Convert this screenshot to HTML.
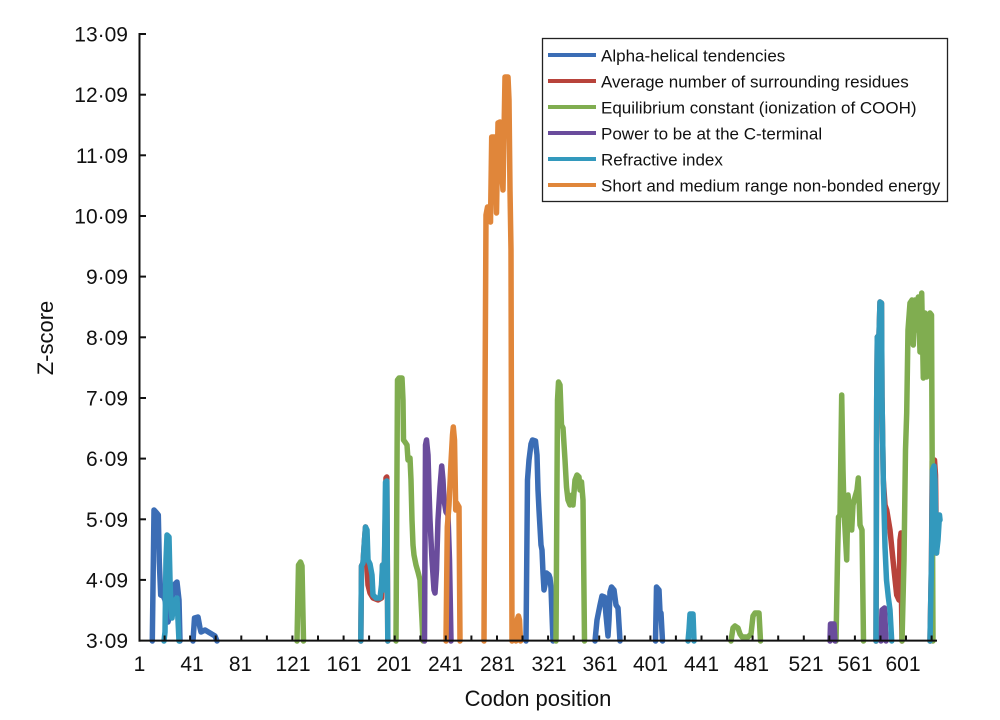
<!DOCTYPE html>
<html>
<head>
<meta charset="utf-8">
<style>
  html, body { margin: 0; padding: 0; background: #ffffff; }
  svg { display: block; }
  text { font-family: "Liberation Sans", Arial, sans-serif; fill: #111; }
</style>
</head>
<body>
<svg width="1000" height="720" viewBox="0 0 1000 720" xmlns="http://www.w3.org/2000/svg">
  <rect x="0" y="0" width="1000" height="720" fill="#ffffff"/>

  <g fill="none" stroke-width="5.5" stroke-linejoin="round" stroke-linecap="round">
    <!-- Blue: Alpha-helical tendencies -->
    <g stroke="#3b6db5">
      <polyline points="152.3,641 154,510 156.7,513 158.3,515 159.3,562 160.7,595 163.3,596 165,600 168,622 171,612 174,585 177,582 179,600 180,641"/>
      <polyline points="193,641 194.5,618 198,617 200,628 201,632 205,630 210,633 215,636 217,641"/>
      <polyline points="526,641 527.5,480 529,460 531,444 532.5,440 535.5,441 537,455 538,490 539,510 541,545 542,550 543,573 544,590 545,585 546.5,573 549,575 550,578 551,588 553,641"/>
      <polyline points="595,641 597,620 600,605 602,596 604.5,597 606,615 608,636 609,620 610,592 611.5,587 614,590 616,605 618,608 620,641"/>
      <polyline points="655.5,641 656.5,587 659,590 660,612 661,613 662.5,641"/>
    </g>
    <!-- Red: Average number of surrounding residues -->
    <g stroke="#b8433b">
      <polyline points="360.8,641 361.5,566 363,563 364.5,540 365.5,527 366.5,545 367,566 368,585 370,593 373,598 378,600 381.5,598 382.5,565 383.5,590 384.5,560 386,478 386.8,477 387.8,641"/>
      <polyline points="876,641 876.7,400 877.3,337 879,335 880,302 881.5,303 882,397 883.3,480 885,505 886.7,510 890,530 893.3,563 896.7,595 899,600 900,540 901,533 901.5,600 902,641"/>
      <polyline points="930,641 931.5,560 932.2,461 934.5,460 935.5,475 936.5,553"/>
    </g>
    <!-- Green: Equilibrium constant -->
    <g stroke="#80ad50">
      <polyline points="297,641 298.5,565 300.5,562 302,566 303.5,641"/>
      <polyline points="396,641 397.5,380 399,378 402,378 403,400 403.5,440 405,442 407,445 408,460 410,458 411,480 412,520 413,545 414,555 416,565 418,572 420,580 421,600 422,620 423,641"/>
      <polyline points="556,641 557.5,400 558.5,382 560,385 561.5,425 563,428 565,460 566.5,487 568,500 570,505 572,495 573,505 575,480 577,475 579,477 580,490 581.5,482 583,500 584.5,641"/>
      <polyline points="731,641 733,628 735,626 738,628 740,634 742,637 748,637 751,634 753,616 755,613 759,613 760.5,641"/>
      <polyline points="836,641 837.5,560 838.5,517 840,515 841.7,395 843,470 844,510 846.7,560 848,495 850,510 851.7,530 853,505 855,497 857,490 858.3,478 860,525 862,530 863.5,641"/>
      <polyline points="902,641 904,560 905.5,450 906.7,413 908,330 910,303 912,300 913.3,345 915,300 916.5,330 918.3,297 920,352 921.7,293 923.3,378 925,313 926.7,377 928,375 930,313 931.5,315 933,641"/>
    </g>
    <!-- Purple: Power to be at the C-terminal -->
    <g stroke="#6a4c9c">
      <polyline points="424.5,641 425.5,445 426.5,440 428,455 429,490 430,520 432,560 434,590 435,593 436.5,570 438,520 440,487 441.7,466 443,480 444,500 446,512 448,515 449.5,560 451,641"/>
      <polyline points="830,641 830.5,624 834,624 835,641"/>
      <polyline points="881,641 882,610 884.5,608 886,641"/>
    </g>
    <!-- Cyan: Refractive index -->
    <g stroke="#3399bd">
      <polyline points="164,641 165,632 166,560 167,535 169,537 170,580 171,610 172,618 173.5,605 175,600 177,598 178,620 179,641"/>
      <polyline points="360.8,641 361.5,566 363,563 364.5,540 365.5,527 367,530 368,560 370,564 372,575 373,595 376,598 380,598 381.5,585 382.5,565 383.5,590 384.5,560 385.5,482 386.8,481 387.8,641"/>
      <polyline points="688,641 689,630 690,614 693,614 694,641"/>
      <polyline points="876,641 876.7,400 877.3,337 879,335 880,302 881.5,303 882,397 883.3,480 885,547 886.5,580 888.3,597 890,610 891.7,641"/>
      <polyline points="930,641 931.5,560 932.5,470 934,466 935,480 936.5,553 938,540 939.5,515 940,520"/>
    </g>
    <!-- Orange: Short and medium range non-bonded energy -->
    <g stroke="#e0863a">
      <polyline points="446,641 447.3,527 449,505 451,462 452.5,435 453.3,427 454.5,440 455.7,510 456.7,503 459,507 460,641"/>
      <polyline points="484,641 485,400 486,215 487.5,207 489,218 490.5,222 491.7,137 494.5,137 496.5,213 498,123 500,122 501.5,170 503,190 505,77 508,77 509,100 510,190 511,250 512,641"/>
      <polyline points="516,641 517,620 518.5,616 519.5,620 520.5,641"/>
    </g>
  </g>

  <!-- Axes -->
  <g stroke="#111" stroke-width="2" fill="none">
    <line x1="139.5" y1="33" x2="139.5" y2="641.6"/>
    <line x1="138.5" y1="640.6" x2="937" y2="640.6"/>
    <!-- y ticks -->
    <line x1="139.5" y1="34" x2="146" y2="34"/>
    <line x1="139.5" y1="94.7" x2="146" y2="94.7"/>
    <line x1="139.5" y1="155.3" x2="146" y2="155.3"/>
    <line x1="139.5" y1="216" x2="146" y2="216"/>
    <line x1="139.5" y1="276.6" x2="146" y2="276.6"/>
    <line x1="139.5" y1="337.3" x2="146" y2="337.3"/>
    <line x1="139.5" y1="398" x2="146" y2="398"/>
    <line x1="139.5" y1="458.6" x2="146" y2="458.6"/>
    <line x1="139.5" y1="519.3" x2="146" y2="519.3"/>
    <line x1="139.5" y1="579.9" x2="146" y2="579.9"/>
    <!-- x ticks every 20 codons -->
    <path d="M164.6,640.6V635.5 M190.1,640.6V635.5 M215.7,640.6V635.5 M241.3,640.6V635.5 M266.9,640.6V635.5 M292.4,640.6V635.5 M318,640.6V635.5 M343.6,640.6V635.5 M369.1,640.6V635.5 M394.7,640.6V635.5 M420.3,640.6V635.5 M445.8,640.6V635.5 M471.4,640.6V635.5 M497,640.6V635.5 M522.5,640.6V635.5 M548.1,640.6V635.5 M573.7,640.6V635.5 M599.2,640.6V635.5 M624.8,640.6V635.5 M650.4,640.6V635.5 M675.9,640.6V635.5 M701.5,640.6V635.5 M727.1,640.6V635.5 M752.6,640.6V635.5 M778.2,640.6V635.5 M803.8,640.6V635.5 M829.3,640.6V635.5 M854.9,640.6V635.5 M880.5,640.6V635.5 M906,640.6V635.5 M931.6,640.6V635.5"/>
  </g>

  <!-- Y tick labels -->
  <g font-size="21" text-anchor="end">
    <text x="128" y="41.5">13·09</text>
    <text x="128" y="102.2">12·09</text>
    <text x="128" y="162.8">11·09</text>
    <text x="128" y="223.5">10·09</text>
    <text x="128" y="284.1">9·09</text>
    <text x="128" y="344.8">8·09</text>
    <text x="128" y="405.5">7·09</text>
    <text x="128" y="466.1">6·09</text>
    <text x="128" y="526.8">5·09</text>
    <text x="128" y="587.4">4·09</text>
    <text x="128" y="648.1">3·09</text>
  </g>

  <!-- X tick labels -->
  <g font-size="21" text-anchor="middle">
    <text x="139.5" y="671">1</text>
    <text x="192" y="671">41</text>
    <text x="240.5" y="671">81</text>
    <text x="293" y="671">121</text>
    <text x="344" y="671">161</text>
    <text x="394" y="671">201</text>
    <text x="445.5" y="671">241</text>
    <text x="497.5" y="671">281</text>
    <text x="549" y="671">321</text>
    <text x="600" y="671">361</text>
    <text x="650.5" y="671">401</text>
    <text x="701.5" y="671">441</text>
    <text x="751.5" y="671">481</text>
    <text x="806" y="671">521</text>
    <text x="855" y="671">561</text>
    <text x="903" y="671">601</text>
  </g>

  <!-- Axis titles -->
  <text x="538" y="706" font-size="22" text-anchor="middle">Codon position</text>
  <text transform="translate(53,338) rotate(-90)" font-size="22" text-anchor="middle">Z-score</text>

  <!-- Legend -->
  <rect x="542.5" y="38.5" width="405" height="163" fill="#ffffff" stroke="#222" stroke-width="1.3"/>
  <g stroke-width="4" stroke-linecap="butt">
    <line x1="548" y1="55" x2="596" y2="55" stroke="#3b6db5"/>
    <line x1="548" y1="81" x2="596" y2="81" stroke="#b8433b"/>
    <line x1="548" y1="107" x2="596" y2="107" stroke="#80ad50"/>
    <line x1="548" y1="133" x2="596" y2="133" stroke="#6a4c9c"/>
    <line x1="548" y1="159" x2="596" y2="159" stroke="#3399bd"/>
    <line x1="548" y1="185" x2="596" y2="185" stroke="#e0863a"/>
  </g>
  <g font-size="17">
    <text x="601" y="61.5">Alpha-helical tendencies</text>
    <text x="601" y="87.5">Average number of surrounding residues</text>
    <text x="601" y="113.5">Equilibrium constant (ionization of COOH)</text>
    <text x="601" y="139.5">Power to be at the C-terminal</text>
    <text x="601" y="165.5">Refractive index</text>
    <text x="601" y="191.5">Short and medium range non-bonded energy</text>
  </g>
</svg>
</body>
</html>
